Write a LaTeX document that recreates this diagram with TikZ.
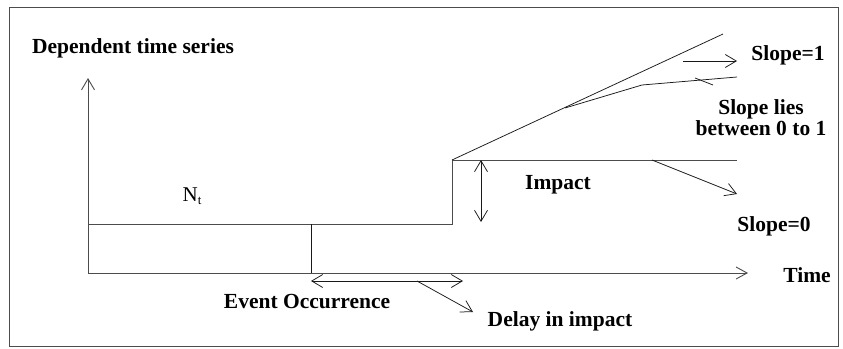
\documentclass[tikz,border=0pt]{standalone}
\usepackage{fontspec}
\setmainfont{Liberation Serif}
\usetikzlibrary{arrows.meta}

\begin{document}
\begin{tikzpicture}[
  x=1pt, y=-1pt,
  font=\fontsize{21.5}{21}\selectfont\bfseries,
  lbl/.style={align=center, inner sep=0pt},
  ln/.style={line width=0.9pt, draw=black!70},
  thin/.style={line width=0.75pt, draw=black!90},
  edge/.style={thin, -{Straight Barb[length=11pt, width=13pt]}},
  both/.style={thin, {Straight Barb[length=11pt, width=13pt]}-{Straight Barb[length=11pt, width=13pt]}}
]
\useasboundingbox (0,0) rectangle (843,348);
\draw[ln] (9,7) rectangle (838,346);

\coordinate (o) at (88,273);
\coordinate (ytop) at (88,78);
\coordinate (xend) at (748,273);
\coordinate (base) at (88,224);
\coordinate (ev) at (311,224);
\coordinate (evx) at (311,273);
\coordinate (jump) at (452,224);
\coordinate (step) at (452,160);
\coordinate (flat) at (737,160);
\coordinate (s1end) at (723,34);
\coordinate (fork) at (565,108);
\coordinate (bend) at (642,85);
\coordinate (mid) at (737,77);
\coordinate (dl) at (311,281);
\coordinate (dr) at (463,281);
\coordinate (dsrc) at (417,281);
\coordinate (dtip) at (473,312);
\coordinate (itop) at (481,160);
\coordinate (ibot) at (481,222);
\coordinate (s1a) at (683,61);
\coordinate (s1b) at (737,61);
\coordinate (barb) at (695,78);
\coordinate (barbend) at (713,85);
\coordinate (s0a) at (652,160);
\coordinate (s0b) at (737,194);

\node[lbl] (ylab) at (133,48) {Dependent time series};
\node[lbl, font=\fontsize{21}{21}\selectfont] (nt) at (192,196) {N\raisebox{-0.35ex}{\fontsize{13}{13}\selectfont t}};
\node[lbl] (time) at (807,275) {Time};
\node[lbl] (slope1) at (788,55) {Slope=1};
\node[lbl] (slopemid) at (761,118) {Slope lies\\between 0 to 1};
\node[lbl] (impact) at (558,185) {Impact};
\node[lbl] (slope0) at (774,226) {Slope=0};
\node[lbl] (event) at (307,302) {Event Occurrence};
\node[lbl] (delay) at (560,321) {Delay in impact};

\draw[ln, -{Straight Barb[length=11pt, width=13pt]}] (o) -- (ytop);
\draw[ln, -{Straight Barb[length=11pt, width=12pt]}] (o) -- (xend);
\draw[ln] (base) -- (jump) -- (step) -- (flat);
\draw[thin] (ev) -- (evx);
\draw[thin] (step) -- (s1end);
\draw[thin] (fork) -- (bend) -- (mid);
\draw[thin] (barb) -- (barbend);
\draw[both] (dl) -- (dr);
\draw[edge] (dsrc) -- (dtip);
\draw[both] (itop) -- (ibot);
\draw[edge] (s1a) -- (s1b);
\draw[edge] (s0a) -- (s0b);
\end{tikzpicture}
\end{document}
